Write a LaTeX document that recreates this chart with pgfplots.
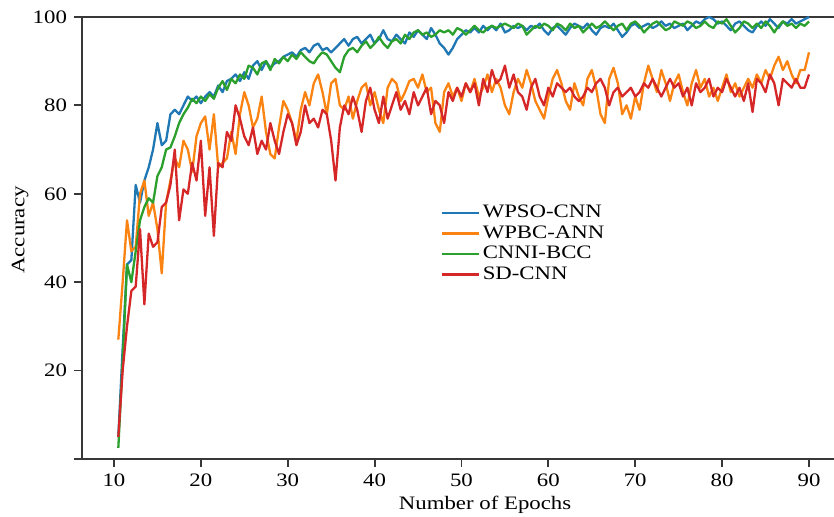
\documentclass[border=0pt]{standalone}
\usepackage{fontspec}
\setmainfont{Liberation Serif}[FakeStretch=1.2]
\usepackage{pgfplots}
\pgfplotsset{compat=1.18}
\usepackage{pgfplotstable}
\definecolor{cblue}{HTML}{1F77B4}
\definecolor{corange}{HTML}{FA8312}
\definecolor{cgreen}{HTML}{2CA02C}
\definecolor{cred}{HTML}{D62728}

\pgfplotstableread{
x A B C D
10.5 5 27 2.5 5
11 25 40 22 20
11.5 44 54 44 30
12 45 47 40 38
12.5 62 48 47 39
13 58 60 54 52
13.5 63 63 57 35
14 66 55 59 51
14.5 70 58 58 48
15 76 52 64 49
15.5 71 42 66 57
16 72 58 70 58
16.5 78 63 70.5 62
17 79 68 73 70
17.5 78 66 76 54
18 80 72 78 61
18.5 82 70 79.5 60
19 81 65 81.5 67
19.5 82 73 80.5 63
20 80.5 76 82 72
20.5 82 77.5 81 55
21 83 70 82.5 66
21.5 82 78 81.5 50.5
22 84.5 66 84 67
22.5 83 67 85.5 66
23 85.5 68 83.5 74
23.5 86 74 86 72
24 87 69 85 80
24.5 85.5 78 87 77
25 87.5 83 86 73
25.5 86 80 89 71
26 89 75 88.5 75
26.5 90 77 87 69
27 88 82 89.5 72
27.5 90 74 90 70
28 88.5 69 88 76
28.5 89.5 68 90.5 72
29 90 75 89.5 69
29.5 91 81 91 74
30 91.5 79 90 78
30.5 92 76 91.5 76
31 91 72 90.5 71
31.5 92.5 79 92 74
32 93 83 91 80
32.5 92 80 90 76
33 93.5 85 89.5 77
33.5 94 87 91 75
34 92.5 83 92 79
34.5 93 78 91.5 78
35 92 85 90 72
35.5 93 86 88.5 63
36 94 80 87.5 75
36.5 95 79 91 80
37 93.5 82 92.5 78
37.5 95 77 93 82
38 95.5 81 92 79
38.5 94 84 93.5 74
39 95 85 94.5 81
39.5 96 80 93 84
40 94 83 94 79
40.5 95 79 95.5 76
41 97 76 94 82
41.5 95 84 93 77
42 94.5 86 94.5 80
42.5 96 85 95 83
43 95 81 94 79
43.5 94 83 96 81
44 96.5 85.5 95 78
44.5 95.5 86 96.5 83
45 97 84 97 80
45.5 96 87 96 82
46 95 83 96.5 84
46.5 97.5 84 95.5 78
47 96 76 96 81
47.5 94 74 97 80
48 93 83 96.5 76
48.5 91.5 85 97 83
49 93 82 96 81
49.5 95 84 97.5 84
50 96 81 97 82
50.5 97 85 96 85
51 96.5 83 97 83
51.5 97.5 86 98 85
52 96.5 82 97 80
52.5 98 84 96.5 86
53 97 87 97.5 83
53.5 98 83 98 88
54 97 86 97.5 85
54.5 98.5 84 98 86
55 96.5 80 98.5 89
55.5 97 78 98 84
56 98 83 97.5 87
56.5 97.5 86 98.5 83
57 98 84 98 82
57.5 97 88 96 79
58 98 85 97 84
58.5 97.5 81 98 86
59 98.5 79 97.5 82
59.5 97 77 98.5 80
60 96 82 98 84
60.5 97.5 86 97 82
61 98 88 98.5 85
61.5 97 85 98 84
62 96 81 97 83
62.5 97.5 79 98.5 84
63 98.5 85 97.5 82
63.5 98 82 98 81
64 97.5 80 96.5 82
64.5 98.5 86 97.5 84
65 97 88 98.5 83
65.5 96 84 97.5 85
66 97.5 78 98 86
66.5 98 76 99 84
67 97.5 86 98 80
67.5 98.5 88.5 97 83
68 97 85 98 84
68.5 95.5 78 98.5 82
69 96.5 80 97 83
69.5 98 77 98.5 84
70 98.5 82 99 82
70.5 97.5 79 98 83
71 98 85 96.5 85
71.5 98.5 89 97.5 84
72 97.5 86 98.5 86
72.5 98 83 99 84
73 99 88 98 82
73.5 98 85 97 84
74 98.5 81 97.5 86
74.5 97.5 85 99 84
75 98 87 98.5 85
75.5 98.5 83 98 82
76 97 80 99 84
76.5 98 85 98.5 80
77 99 88 97.5 85
77.5 98.5 84 98 83
78 99.5 86 99 84
78.5 100 82 98 86
79 99.5 84 97.5 82
79.5 98.5 81 99 84
80 99 84 98.5 83
80.5 98 87 99.5 86
81 97 83 98 84
81.5 98.5 85 96.5 82
82 99 82 97.5 84
82.5 98 84 99 81
83 97 86 98.5 85
83.5 96.5 84 97.5 78.5
84 98 87 98.5 86
84.5 99 85 97.5 85
85 98 88 99 83
85.5 99.5 86 98 87
86 98.5 89 96.5 85
86.5 97.5 91 98 80
87 99 88 99 86
87.5 98.5 90 98 85
88 99.5 87 98.5 84
88.5 98.5 85 97.5 86
89 99 88 98.5 84
89.5 99.5 88 98 84
90 100 92 99 87
}\datatable

\begin{document}
\begin{tikzpicture}
\useasboundingbox (-41pt,-29pt) rectangle (376pt,229.5pt);
\begin{axis}[
  scale only axis, width=376pt, height=221pt,
  xmin=6.32, xmax=92.88, ymin=0, ymax=100,
  axis x line*=box, axis y line*=left,
  xtick={10,20,...,90}, ytick={0,20,...,100},
  yticklabels={,20,40,60,80,100},
  xtick pos=bottom, ytick pos=left,
  tick align=outside, major tick length=4pt,
  minor tick num=0,
  axis line style={black!78, line width=0.9pt},
  tick style={black!78, line width=0.9pt},
  /pgf/number format/assume math mode=true,
  ticklabel style={font=\fontsize{9.5}{11}\selectfont, text=black},
  xlabel={Number of Epochs}, ylabel={Accuracy},
  label style={font=\fontsize{9.5}{11}\selectfont, text=black},
  xlabel style={at={(axis description cs:0.536,-0.103)}, anchor=center},
  ylabel style={at={(axis description cs:-0.0824,0.518)}, anchor=center},
  legend style={at={(axis description cs:0.476,0.582)}, anchor=north west,
    draw=none, fill=white, font=\fontsize{9.5}{10}\selectfont,
    row sep=-0.5pt, inner sep=0pt, nodes={inner sep=1.5pt, text=black}},
  legend cell align=left,
  legend image code/.code={\draw[#1, line width=1.2pt] (0pt,0pt) -- (18.5pt,0pt);},
  every axis plot/.append style={line width=1.15pt, line join=round, mark=none},
]
\addplot[cblue] table[x=x, y=A] {\datatable};
\addlegendentry{WPSO-CNN}
\addplot[corange] table[x=x, y=B] {\datatable};
\addlegendentry{WPBC-ANN}
\addplot[cgreen] table[x=x, y=C] {\datatable};
\addlegendentry{CNNI-BCC}
\addplot[cred] table[x=x, y=D] {\datatable};
\addlegendentry{SD-CNN}
\end{axis}
\end{tikzpicture}
\end{document}
